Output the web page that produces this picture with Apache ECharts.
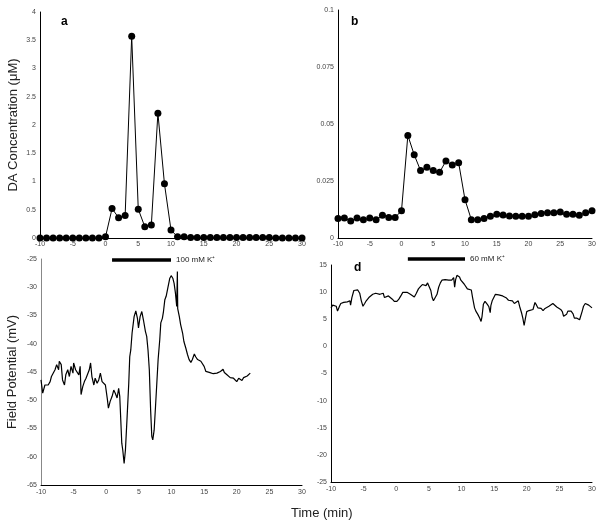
<!DOCTYPE html>
<html>
<head>
<meta charset="UTF-8">
<title>DA and field potential</title>
<script src="https://cdn.jsdelivr.net/npm/echarts@6/dist/echarts.min.js"></script>
<style>
  html, body { margin: 0; padding: 0; background: #fff; }
  #main { width: 602px; height: 527px; }
</style>
</head>
<body>
<div id="main"></div>
<script type="text/javascript">
	// time axis (min), one sample per minute for the DA panels
	var minutes = [];
	for (var m = -10; m <= 30; m++) minutes.push(m);

	// a: DA concentration (uM), 100 mM K+
	var daA = [0,0,0,0,0,0,0,0,0,0,0.02,0.52,0.36,0.4,3.57,0.51,0.2,0.23,2.21,0.96,0.14,0.02,0.02,
		0.01,0.01,0.01,0.01,0.01,0.01,0.01,0.01,0.01,0.01,0.01,0.01,0.01,0,0,0,0,0];
	// b: DA concentration (uM), 60 mM K+
	var daB = [0.0085,0.0088,0.0075,0.0088,0.008,0.0088,0.008,0.01,0.009,0.009,0.012,0.045,0.0365,
		0.0296,0.031,0.0296,0.0288,0.0338,0.032,0.033,0.0168,0.008,0.008,0.0085,0.0095,0.0104,0.0101,
		0.0097,0.0095,0.0095,0.0095,0.0102,0.0107,0.0111,0.0111,0.0114,0.0104,0.0104,0.01,0.0111,0.0119];

	// c: field potential (mV) [time, mV]
	var fpC = [[-10,-46.4],[-9.74,-48.75],[-9.4,-47.3],[-8.9,-47.3],[-8.6,-46.7],[-8.4,-45.8],[-8.1,-46.1],
		[-7.85,-44.6],[-7.6,-43.7],[-7.3,-44.6],[-7.2,-43.1],[-6.9,-43.7],[-6.7,-46.4],[-6.4,-47.3],
		[-6.2,-45.5],[-5.9,-44.6],[-5.65,-45.8],[-5.4,-44],[-5.1,-45.2],[-5.0,-43.4],[-4.7,-44.6],
		[-4.5,-44.3],[-4.2,-45.5],[-4.0,-44],[-3.86,-49],[-3.6,-47.6],[-3.35,-46.7],[-3.1,-46.1],
		[-2.85,-45.8],[-2.6,-44.6],[-2.4,-43.4],[-2.2,-45.8],[-1.9,-47.3],[-1.7,-46.1],[-1.4,-47],
		[-1.15,-46.4],[-0.9,-45.2],[-0.64,-46.7],[-0.4,-46.7],[-0.13,-47.3],[0.18,-49.9],[0.33,-51.4],
		[0.6,-50.2],[0.9,-49.3],[1.15,-48.2],[1.4,-48.8],[1.66,-49.6],[1.9,-47.9],[2.07,-49.3],
		[2.38,-57.6],[2.53,-58.8],[2.74,-61.2],[2.94,-58.8],[3.2,-52.9],[3.45,-47],[3.6,-42.3],
		[3.76,-41.1],[3.96,-38.1],[4.27,-35.2],[4.53,-34.2],[4.78,-35.5],[4.94,-37.2],[5.19,-35.2],
		[5.45,-34.3],[5.7,-35.8],[6.0,-37.8],[6.2,-38.7],[6.4,-41.1],[6.6,-44.6],[6.8,-51.7],
		[6.98,-56.4],[7.13,-57],[7.34,-55.3],[7.55,-51.1],[7.75,-47],[7.95,-42.8],[8.2,-39.3],
		[8.36,-36.3],[8.6,-35.5],[8.77,-34.3],[8.98,-32.2],[9.18,-31.6],[9.44,-30.1],[9.74,-28.4],
		[9.95,-27.95],[10.2,-28.4],[10.4,-29.3],[10.6,-31],[10.8,-33.4],[10.9,-27.2],[10.95,-33.8],
		[11.2,-35.2],[11.4,-36.6],[11.7,-38.1],[11.9,-39.6],[12.2,-40.8],[12.45,-41.9],[12.7,-42.8],
		[12.97,-43.3],[13.2,-42.8],[13.5,-41.8],[13.7,-42.3],[14.0,-42.8],[14.25,-43.1],[14.5,-43.1],
		[14.76,-43.4],[15.0,-44],[15.27,-44.9],[15.5,-44.9],[15.9,-45.1],[16.4,-45.3],[16.96,-45.2],
		[17.5,-44.9],[17.9,-44.5],[18.1,-45.1],[18.5,-45.5],[19,-46],[19.5,-46.1],[19.8,-46.4],
		[20.0,-46.7],[20.3,-46.1],[20.5,-46.3],[20.8,-46.5],[21.05,-46],[21.3,-46.1],[21.6,-45.7],
		[21.8,-45.8],[22.07,-45.2]];

	// d: field potential (mV) [time, mV]
	var fpD = [[-10,7.1],[-9.74,7.6],[-9.5,7.9],[-9.2,7.4],[-9.0,6.5],[-8.7,7.4],[-8.5,7.9],[-8.06,8.1],
		[-7.5,8.2],[-7.1,8.4],[-7.0,7.6],[-6.8,9.0],[-6.5,10.3],[-6.3,10.4],[-5.9,10.4],[-5.6,9.8],
		[-5.35,8.4],[-5.1,7.4],[-4.84,7.9],[-4.6,8.4],[-4.2,9.0],[-3.9,9.3],[-3.6,9.6],[-3.36,9.3],
		[-3.15,9.8],[-2.85,9.5],[-2.5,9.6],[-2.3,9.3],[-2.0,9.8],[-1.8,9.0],[-1.5,8.7],[-1.2,9.3],
		[-0.9,9.0],[-0.6,8.7],[-0.3,8.3],[0.1,8.3],[0.4,8.7],[0.7,9.3],[1.0,9.96],[1.3,10.3],
		[1.65,9.96],[1.9,10.15],[2.16,9.6],[2.4,9.3],[2.77,9.1],[3.08,9.8],[3.4,10.6],[3.7,11.0],
		[4.0,11.4],[4.3,11.7],[4.56,11.2],[4.8,11.7],[5.1,11.5],[5.3,10.3],[5.5,9.0],[5.7,8.4],
		[5.99,8.5],[6.25,9.6],[6.5,10.9],[6.76,11.7],[7.0,12.2],[7.27,12.5],[7.5,12.3],[7.78,12.5],
		[8.03,12.2],[8.3,12.5],[8.5,12.2],[8.8,12.7],[8.95,10.9],[9.1,12.3],[9.3,13.1],[9.5,13.3],
		[9.7,12.8],[9.9,12.2],[10.2,12.3],[10.4,11.5],[10.7,11.7],[10.9,10.6],[11.2,10.3],[11.5,10.4],
		[11.7,9.0],[12.0,7.1],[12.2,6.5],[12.5,5.9],[12.8,5.2],[13.0,4.6],[13.15,5.55],[13.35,7.75],
		[13.6,8.3],[13.8,8.1],[13.96,7.75],[14.2,7.3],[14.4,6.2],[14.5,7.5],[14.7,8.4],[14.9,8.7],
		[15.2,9.6],[15.4,9.8],[15.7,9.5],[15.95,9.8],[16.3,9.3],[16.6,9.0],[16.9,8.9],[17.2,8.5],
		[17.5,8.3],[17.8,8.4],[18.1,7.9],[18.4,8.1],[18.7,8.4],[18.9,7.4],[19.2,6.2],[19.4,5.2],
		[19.6,3.85],[19.8,5.2],[20.0,6.4],[20.35,6.6],[20.65,6.5],[20.96,6.8],[21.26,8.1],[21.5,7.6],
		[21.7,7.1],[22.0,7.4],[22.2,7.0],[22.5,6.6],[22.8,7.0],[23.1,7.25],[23.4,7.4],[23.7,7.6],
		[24.0,7.9],[24.3,7.6],[24.6,7.25],[24.9,7.0],[25.2,6.8],[25.45,6.4],[25.65,5.55],[25.85,5.2],
		[26.1,5.9],[26.3,6.5],[26.6,6.2],[26.8,6.5],[27.1,6.0],[27.3,5.2],[27.5,5.35],[27.7,5.2],
		[27.9,5.35],[28.1,4.9],[28.3,5.2],[28.5,6.5],[28.7,7.4],[28.97,7.9],[29.2,8.1],[29.5,7.6],
		[29.7,7.25],[30.0,7.1]];

	// K+ application window (min) and labels
	var stim = [1, 10];
	var stimLabels = ['100 mM K\u207A', '60 mM K\u207A'];

	var FONT = '"Liberation Sans", Arial, sans-serif';
	var tickLbl = { fontSize: 7, color: '#444', fontFamily: FONT };

	function xAx(idx, margin) {
		return {
			type: 'value', gridIndex: idx, min: -10, max: 30, interval: 5,
			axisLine: { onZero: false, lineStyle: { color: '#000', width: 1 } },
			axisTick: { show: false },
			splitLine: { show: false },
			axisLabel: Object.assign({ margin: margin }, tickLbl)
		};
	}
	function yAx(idx, min, max, interval, color, name, gap) {
		return {
			type: 'value', gridIndex: idx, min: min, max: max, interval: interval,
			axisLine: { show: true, onZero: false, lineStyle: { color: color, width: 1 } },
			axisTick: { show: false },
			splitLine: { show: false },
			axisLabel: Object.assign({ margin: 4 }, tickLbl),
			name: name || '', nameLocation: 'middle', nameGap: gap || 0,
			nameTextStyle: { fontSize: 13, color: '#222', fontFamily: FONT }
		};
	}
	function pairs(xs, ys) {
		return xs.map(function (x, i) { return [x, ys[i]]; });
	}
	function stimBar(idx, y, text) {
		return {
			type: 'line', xAxisIndex: idx, yAxisIndex: idx, clip: false, silent: true,
			symbol: 'none', lineStyle: { color: '#000', width: 3.5 },
			data: [[stim[0], y], [stim[1], y]],
			endLabel: { show: true, distance: 5, formatter: text,
				fontSize: 8, color: '#222', fontFamily: FONT }
		};
	}

	var chart = echarts.init(document.getElementById('main'));
	var option = {
		animation: false,
		textStyle: { fontFamily: FONT },
		grid: [
			{ left: 40, top: 12, width: 262, height: 226, outerBoundsMode: 'none' },
			{ left: 338, top: 10, width: 254, height: 228, outerBoundsMode: 'none' },
			{ left: 41, top: 259, width: 261, height: 226, outerBoundsMode: 'none' },
			{ left: 331, top: 265, width: 261, height: 217, outerBoundsMode: 'none' }
		],
		title: [
			{ text: 'a', left: 56, top: 11, textStyle: { fontSize: 12, fontWeight: 'bold', color: '#000', fontFamily: FONT } },
			{ text: 'b', left: 346, top: 11, textStyle: { fontSize: 12, fontWeight: 'bold', color: '#000', fontFamily: FONT } },
			{ text: 'd', left: 349, top: 257, textStyle: { fontSize: 12, fontWeight: 'bold', color: '#000', fontFamily: FONT } },
			{ text: 'Time (min)', left: 286, top: 502, textStyle: { fontSize: 13, fontWeight: 'normal', color: '#222', fontFamily: FONT } }
		],
		xAxis: [xAx(0, 3), xAx(1, 3), xAx(2, 4), xAx(3, 4)],
		yAxis: [
			yAx(0, 0, 4, 0.5, '#000', 'DA Concentration (\u03BCM)', 20),
			yAx(1, 0, 0.1, 0.025, '#000'),
			yAx(2, -65, -25, 5, '#888', 'Field Potential (mV)', 22),
			yAx(3, -25, 15, 5, '#000')
		],
		series: [
			{
				type: 'line', xAxisIndex: 0, yAxisIndex: 0, data: pairs(minutes, daA),
				symbol: 'circle', symbolSize: 7, clip: false,
				itemStyle: { color: '#000' }, lineStyle: { color: '#000', width: 1 }
			},
			{
				type: 'line', xAxisIndex: 1, yAxisIndex: 1, data: pairs(minutes, daB),
				symbol: 'circle', symbolSize: 7, clip: false,
				itemStyle: { color: '#000' }, lineStyle: { color: '#000', width: 1 }
			},
			{
				type: 'line', xAxisIndex: 2, yAxisIndex: 2, data: fpC, symbol: 'none',
				lineStyle: { color: '#000', width: 1.2 }
			},
			{
				type: 'line', xAxisIndex: 3, yAxisIndex: 3, data: fpD, symbol: 'none',
				lineStyle: { color: '#000', width: 1.2 }
			},
			stimBar(0, -0.39, stimLabels[0]),
			stimBar(1, -0.0092, stimLabels[1])
		]
	};
	chart.setOption(option);
</script>
</body>
</html>
